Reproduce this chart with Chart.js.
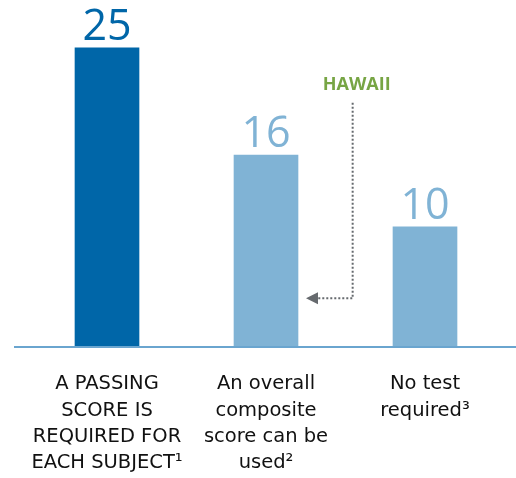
<!DOCTYPE html>
<html>
<head>
<meta charset="utf-8">
<script src="https://cdn.jsdelivr.net/npm/chart.js@4/dist/chart.umd.min.js"></script>
<style>
  html, body { margin: 0; padding: 0; background: #fff; }
  #wrap { width: 516px; height: 478px; position: relative; }
</style>
</head>
<body>
<div id="wrap"><canvas id="c" width="516" height="478"></canvas></div>
<script>
const categories = [
  ['A PASSING', 'SCORE IS', 'REQUIRED FOR', 'EACH SUBJECT\u00B9'],
  ['An overall', 'composite', 'score can be', 'used\u00B2'],
  ['No test', 'required\u00B3']
];
const stateCounts = [25, 16, 10];
const barColors = ['#0066a8', '#80b3d5', '#80b3d5'];
const annotationText = 'HAWAII';

const valueLabels = {
  id: 'valueLabels',
  afterDatasetsDraw(chart) {
    const ctx = chart.ctx;
    const meta = chart.getDatasetMeta(0);
    ctx.save();
    ctx.font = '400 43px "Open Sans"';
    ctx.textAlign = 'center';
    ctx.textBaseline = 'alphabetic';
    meta.data.forEach((bar, i) => {
      ctx.fillStyle = barColors[i];
      ctx.fillText(String(stateCounts[i]), bar.x, bar.y - 8);
    });
    ctx.restore();
  }
};

const baseline = {
  id: 'baseline',
  afterDatasetsDraw(chart) {
    const ctx = chart.ctx;
    const y = chart.scales.y.getPixelForValue(0);
    ctx.save();
    ctx.strokeStyle = '#6aa5cf';
    ctx.lineWidth = 2;
    ctx.beginPath();
    ctx.moveTo(14, y + 1);
    ctx.lineTo(chart.width, y + 1);
    ctx.stroke();
    ctx.restore();
  }
};

const hawaiiArrow = {
  id: 'hawaiiArrow',
  afterDatasetsDraw(chart) {
    const ctx = chart.ctx;
    const xs = chart.scales.x, ys = chart.scales.y;
    const bar2 = chart.getDatasetMeta(0).data[1];
    const vx = xs.getPixelForValue(1.545);
    const topY = ys.getPixelForValue(20.4);
    const botY = ys.getPixelForValue(4.0);
    const tipX = bar2.x + bar2.width / 2 + 8;
    ctx.save();
    ctx.strokeStyle = '#666a6e';
    ctx.fillStyle = '#666a6e';
    ctx.lineWidth = 2;
    ctx.setLineDash([2, 2]);
    ctx.beginPath();
    ctx.moveTo(vx, topY);
    ctx.lineTo(vx, botY);
    ctx.lineTo(tipX + 12, botY);
    ctx.stroke();
    ctx.setLineDash([]);
    ctx.beginPath();
    ctx.moveTo(tipX, botY);
    ctx.lineTo(tipX + 12, botY - 6);
    ctx.lineTo(tipX + 12, botY + 6);
    ctx.closePath();
    ctx.fill();
    ctx.font = 'bold 18px "Open Sans"';
    ctx.fillStyle = '#77a544';
    ctx.textAlign = 'center';
    ctx.textBaseline = 'middle';
    ctx.fillText(annotationText, vx + 4, ys.getPixelForValue(21.9));
    ctx.restore();
  }
};

new Chart(document.getElementById('c'), {
  type: 'bar',
  data: {
    labels: categories,
    datasets: [{
      data: stateCounts,
      backgroundColor: barColors,
      borderWidth: 0,
      barThickness: 64
    }]
  },
  options: {
    responsive: false,
    animation: false,
    devicePixelRatio: 1,
    layout: { padding: { top: 12, left: 27.5, right: 11.5, bottom: 0 } },
    plugins: { legend: { display: false }, tooltip: { enabled: false } },
    scales: {
      y: { display: false, min: 0, max: 28 },
      x: {
        grid: { display: false, drawTicks: false },
        border: { display: false },
        afterFit(scale) { scale.height = 132; },
        ticks: {
          padding: 25,
          color: '#111',
          maxRotation: 0,
          autoSkip: false,
          font: { family: '"DejaVu Sans"', size: 19.5, lineHeight: 1.35 }
        }
      }
    }
  },
  plugins: [valueLabels, baseline, hawaiiArrow]
});
</script>
</body>
</html>
